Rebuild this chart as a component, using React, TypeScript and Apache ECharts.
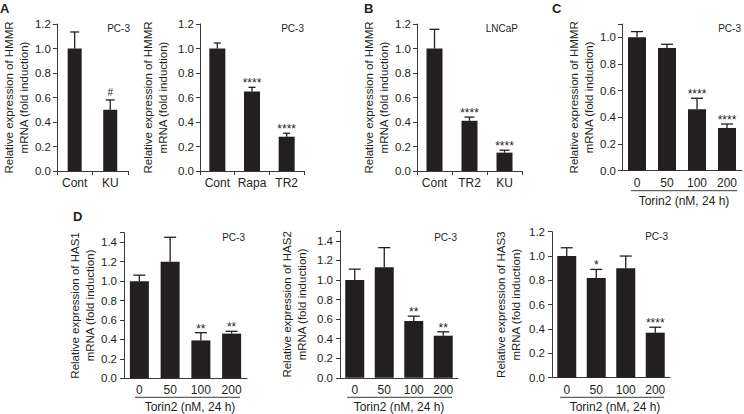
import React, { useEffect, useRef } from 'react';
import * as echarts from 'echarts';

// ---------- data ----------
const catsA1 = ['Cont', 'KU'];
const meanA1 = [1.0, 0.5];
const sdA1 = [0.135, 0.08];
const sigA1 = ['', '#'];

const catsA2 = ['Cont', 'Rapa', 'TR2'];
const meanA2 = [1.0, 0.65, 0.28];
const sdA2 = [0.045, 0.033, 0.028];
const sigA2 = ['', '****', '****'];

const catsB = ['Cont', 'TR2', 'KU'];
const meanB = [1.0, 0.41, 0.15];
const sdB = [0.157, 0.03, 0.02];
const sigB = ['', '****', '****'];

const doses = ['0', '50', '100', '200'];

const meanC = [1.0, 0.92, 0.46, 0.32];
const sdC = [0.043, 0.028, 0.083, 0.03];
const sigC = ['', '', '****', '****'];

const meanHAS1 = [1.0, 1.2, 0.39, 0.46];
const sdHAS1 = [0.062, 0.252, 0.08, 0.024];
const sigHAS1 = ['', '', '**', '**'];

const meanHAS2 = [1.0, 1.13, 0.58, 0.43];
const sdHAS2 = [0.11, 0.2, 0.05, 0.04];
const sigHAS2 = ['', '', '**', '**'];

const meanHAS3 = [1.0, 0.82, 0.9, 0.37];
const sdHAS3 = [0.068, 0.07, 0.1, 0.045];
const sigHAS3 = ['', '*', '', '****'];

const titleHMMR = 'Relative expression of HMMR\nmRNA (fold induction)';
const titleHAS1 = 'Relative expression of HAS1\nmRNA (fold induction)';
const titleHAS2 = 'Relative expression of HAS2\nmRNA (fold induction)';
const titleHAS3 = 'Relative expression of HAS3\nmRNA (fold induction)';
const torinLabel = 'Torin2 (nM, 24 h)';

// ---------- styles ----------
const INK = '#231f20';
const AXIS = '#3a3a3a';
const FONT = '"Liberation Sans", Arial, sans-serif';

type Panel = {
  cats: string[]; mean: number[]; sd: number[]; sig: string[];
  title: string; yMax: number; cell: string;
  left: number; top: number; width: number; height: number;
  barW: number; capW: number; nameGap: number; labelMargin: number;
  cellX: number; cellY: number; innerTicks: boolean;
};

const panels: Panel[] = [
  { cats: catsA1, mean: meanA1, sd: sdA1, sig: sigA1, title: titleHMMR, yMax: 1.2, cell: 'PC-3',
    left: 50, top: 24, width: 78, height: 147, barW: 14, capW: 9, nameGap: 20, labelMargin: 6,
    cellX: 130, cellY: 28, innerTicks: true },
  { cats: catsA2, mean: meanA2, sd: sdA2, sig: sigA2, title: titleHMMR, yMax: 1.2, cell: 'PC-3',
    left: 200, top: 24, width: 104, height: 147, barW: 16, capW: 7, nameGap: 30, labelMargin: 6,
    cellX: 304, cellY: 28, innerTicks: true },
  { cats: catsB, mean: meanB, sd: sdB, sig: sigB, title: titleHMMR, yMax: 1.2, cell: 'LNCaP',
    left: 417, top: 24, width: 105, height: 147, barW: 16, capW: 10, nameGap: 24, labelMargin: 6,
    cellX: 518, cellY: 28, innerTicks: true },
  { cats: doses, mean: meanC, sd: sdC, sig: sigC, title: titleHMMR, yMax: 1.1, cell: 'PC-3',
    left: 622, top: 24, width: 120, height: 146.7, barW: 18, capW: 12, nameGap: 22, labelMargin: 6,
    cellX: 741, cellY: 28, innerTicks: false },
  { cats: doses, mean: meanHAS1, sd: sdHAS1, sig: sigHAS1, title: titleHAS1, yMax: 1.5, cell: 'PC-3',
    left: 124, top: 232.6, width: 123, height: 145.7, barW: 19, capW: 12, nameGap: 24, labelMargin: 7,
    cellX: 245, cellY: 237, innerTicks: false },
  { cats: doses, mean: meanHAS2, sd: sdHAS2, sig: sigHAS2, title: titleHAS2, yMax: 1.5, cell: 'PC-3',
    left: 340, top: 231, width: 118, height: 146.8, barW: 19, capW: 12, nameGap: 31, labelMargin: 7,
    cellX: 457, cellY: 237, innerTicks: false },
  { cats: doses, mean: meanHAS3, sd: sdHAS3, sig: sigHAS3, title: titleHAS3, yMax: 1.2, cell: 'PC-3',
    left: 552, top: 231.7, width: 118, height: 146, barW: 19, capW: 12, nameGap: 29, labelMargin: 7,
    cellX: 668, cellY: 236, innerTicks: false },
];

const letters = [
  { t: 'A', x: 0, y: 2 },
  { t: 'B', x: 364, y: 2 },
  { t: 'C', x: 552, y: 2 },
  { t: 'D', x: 73, y: 210 },
];

const torinMarks = [
  { x1: 631, x2: 737, y: 190.7, cx: 684, ty: 200.5 },
  { x1: 135, x2: 240, y: 397.3, cx: 190, ty: 406.7 },
  { x1: 347, x2: 452, y: 397.3, cx: 399, ty: 406.7 },
  { x1: 560, x2: 664, y: 397.3, cx: 615, ty: 406.7 },
];

function buildOption() {
  const grid: any[] = [];
  const xAxis: any[] = [];
  const yAxis: any[] = [];
  const series: any[] = [];
  const graphic: any[] = [];

  panels.forEach((p, k) => {
    grid.push({ left: p.left, top: p.top, width: p.width, height: p.height });
    xAxis.push({
      type: 'category', gridIndex: k, data: p.cats,
      axisLine: { lineStyle: { color: AXIS, width: 1 } },
      axisTick: { show: p.innerTicks, length: 4, lineStyle: { color: AXIS } },
      axisLabel: { color: INK, fontSize: 12, fontFamily: FONT, margin: 6, interval: 0 },
    });
    yAxis.push({
      type: 'value', gridIndex: k, min: 0, max: p.yMax, interval: 0.2,
      splitLine: { show: false },
      axisLine: { show: true, lineStyle: { color: AXIS, width: 1 } },
      axisTick: { show: true, length: 4, lineStyle: { color: AXIS } },
      axisLabel: {
        color: INK, fontSize: 11.5, fontFamily: FONT, margin: p.labelMargin,
        formatter: (v: number) => (Math.abs(v / 0.2 - Math.round(v / 0.2)) > 1e-6 ? '' : v.toFixed(1)),
      },
      name: p.title, nameLocation: 'middle', nameRotate: 90, nameGap: p.nameGap,
      nameTextStyle: { color: INK, fontSize: 11.5, fontFamily: FONT, lineHeight: 15 },
    });
    series.push({
      type: 'bar', xAxisIndex: k, yAxisIndex: k, data: p.mean, barWidth: p.barW,
      itemStyle: { color: INK }, silent: true, z: 2,
    });
    const sig = p.sig;
    const capW = p.capW;
    series.push({
      type: 'custom', xAxisIndex: k, yAxisIndex: k, silent: true, z: 3,
      encode: { x: 0, y: 1 },
      data: p.mean.map((m, i) => [i, m, p.sd[i]]),
      renderItem: (params: any, api: any) => {
        const i = api.value(0);
        const m = api.value(1);
        const s = api.value(2);
        const a = api.coord([i, m]);
        const b = api.coord([i, m + s]);
        const children: any[] = [
          { type: 'line', shape: { x1: a[0], y1: a[1], x2: a[0], y2: b[1] }, style: { stroke: INK, lineWidth: 1.3 } },
          { type: 'line', shape: { x1: a[0] - capW / 2, y1: b[1], x2: a[0] + capW / 2, y2: b[1] }, style: { stroke: INK, lineWidth: 1.3 } },
        ];
        const t = sig[params.dataIndex];
        if (t) {
          const star = t.indexOf('*') >= 0;
          children.push({
            type: 'text',
            style: {
              text: t, x: a[0], y: b[1] - (star ? 4 : 7), align: 'center', verticalAlign: 'middle',
              fontSize: star ? 12 : 10, fontFamily: FONT, fill: INK,
            },
          });
        }
        return { type: 'group', children };
      },
    });
    graphic.push({
      type: 'text', id: 'cell' + k, x: p.cellX, y: p.cellY,
      style: { text: p.cell, align: 'right', verticalAlign: 'middle', fontSize: 10, fontFamily: FONT, fill: INK },
    });
  });

  letters.forEach((l, i) => {
    graphic.push({
      type: 'text', id: 'letter' + i, x: l.x, y: l.y,
      style: { text: l.t, align: 'left', verticalAlign: 'top', fontSize: 13, fontWeight: 'bold', fontFamily: FONT, fill: INK },
    });
  });

  torinMarks.forEach((m, i) => {
    graphic.push({
      type: 'line', id: 'tline' + i, shape: { x1: m.x1, y1: m.y, x2: m.x2, y2: m.y }, style: { stroke: AXIS, lineWidth: 1 },
    });
    graphic.push({
      type: 'text', id: 'ttext' + i, x: m.cx, y: m.ty,
      style: { text: torinLabel, align: 'center', verticalAlign: 'middle', fontSize: 12, fontFamily: FONT, fill: INK },
    });
  });

  return {
    animation: false,
    backgroundColor: '#ffffff',
    grid, xAxis, yAxis, series, graphic,
  };
}

export default function App() {
  const ref = useRef<HTMLDivElement>(null);
  useEffect(() => {
    if (!ref.current) return;
    const chart = echarts.init(ref.current, null, { renderer: 'svg' });
    chart.setOption(buildOption() as any);
    return () => chart.dispose();
  }, []);
  return (
    <div
      ref={ref}
      style={{ position: 'fixed', left: 0, top: 0, width: 744, height: 414, background: '#fff' }}
    />
  );
}
